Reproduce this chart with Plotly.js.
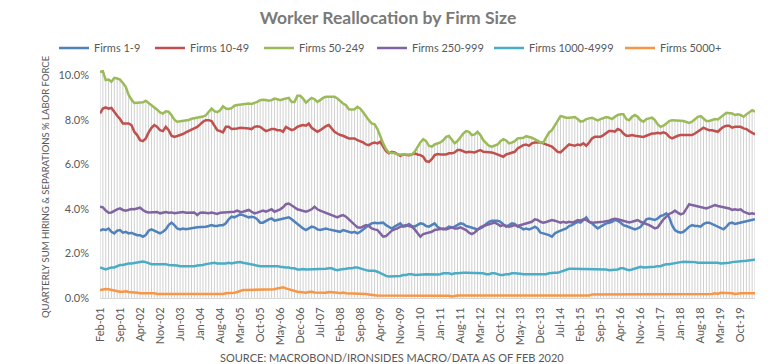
<!DOCTYPE html>
<html>
<head>
<meta charset="utf-8">
<script src="https://cdn.plot.ly/plotly-3.0.1.min.js"></script>
<style>html,body{margin:0;padding:0;background:#fff;}#chart{width:776px;height:364px;}</style>
</head>
<body>
<div id="chart"></div>
<script>
// Monthly series, Feb-2001 .. Mar-2020 (230 months), % of labor force
const startYear = 2001, startMonth = 1; // 0-based month: 1 = Feb
const seriesNames = ["Firms 1-9", "Firms 10-49", "Firms 50-249", "Firms 250-999", "Firms 1000-4999", "Firms 5000+"];

const firms1to9 = [
3.02,3.08,3.05,3.12,2.97,2.90,3.02,3.05,2.93,2.97,
2.90,2.93,2.87,2.82,2.82,2.75,2.82,3.02,3.08,3.02,
2.93,2.90,2.97,3.08,3.27,3.38,3.27,3.12,3.08,3.12,
3.09,3.12,3.12,3.15,3.17,3.17,3.20,3.20,3.23,3.27,
3.23,3.23,3.27,3.27,3.35,3.53,3.65,3.62,3.68,3.75,
3.72,3.68,3.62,3.65,3.62,3.53,3.38,3.38,3.47,3.53,
3.57,3.47,3.50,3.53,3.53,3.57,3.62,3.53,3.42,3.35,
3.23,3.12,3.05,3.12,3.20,3.17,3.08,3.05,3.09,3.12,
3.08,3.05,3.05,3.02,2.97,3.05,3.00,2.97,2.93,2.97,
2.90,2.97,3.08,3.17,3.27,3.35,3.38,3.35,3.35,3.38,
3.27,3.20,3.12,3.20,3.27,3.35,3.20,3.23,3.32,3.23,
3.20,3.27,3.35,3.32,3.23,3.20,3.27,3.35,3.20,3.12,
3.08,3.12,3.20,3.17,3.20,3.27,3.35,3.32,3.23,3.20,
3.17,3.12,3.08,3.12,3.20,3.32,3.42,3.47,3.47,3.47,
3.42,3.32,3.20,3.27,3.35,3.32,3.20,3.17,3.08,3.12,
3.08,3.12,3.20,3.12,2.93,2.90,2.87,2.82,2.75,2.90,
2.97,3.02,3.08,3.12,3.23,3.27,3.35,3.42,3.38,3.50,
3.62,3.42,3.35,3.23,3.12,3.20,3.27,3.35,3.38,3.42,
3.50,3.47,3.38,3.27,3.23,3.17,3.12,3.08,3.12,3.20,
3.35,3.53,3.57,3.53,3.50,3.57,3.68,3.72,3.80,3.62,
3.27,3.05,2.97,2.93,2.97,3.08,3.20,3.27,3.23,3.23,
3.20,3.32,3.38,3.38,3.32,3.27,3.23,3.17,3.08,3.20,
3.35,3.38,3.32,3.35,3.38,3.38,3.42,3.47,3.50,3.53];

const firms10to49 = [
8.28,8.50,8.55,8.50,8.53,8.33,8.18,8.03,7.83,7.83,
7.83,7.76,7.46,7.31,7.08,7.04,7.16,7.43,7.64,7.76,
7.68,7.53,7.49,7.68,7.53,7.28,7.23,7.27,7.31,7.36,
7.43,7.49,7.53,7.61,7.68,7.79,7.91,7.98,7.98,7.94,
7.76,7.53,7.49,7.43,7.68,7.68,7.58,7.58,7.61,7.64,
7.64,7.61,7.61,7.58,7.68,7.71,7.68,7.58,7.49,7.53,
7.58,7.58,7.53,7.53,7.46,7.68,7.61,7.53,7.58,7.68,
7.73,7.76,7.73,7.83,7.64,7.53,7.46,7.53,7.64,7.71,
7.76,7.61,7.46,7.38,7.31,7.28,7.23,7.16,7.16,7.16,
7.08,7.04,6.98,6.89,6.86,6.94,6.98,6.94,7.01,6.79,
6.59,6.49,6.56,6.53,6.44,6.38,6.44,6.41,6.41,6.44,
6.49,6.44,6.41,6.34,6.14,6.11,6.23,6.41,6.46,6.44,
6.44,6.44,6.49,6.49,6.53,6.64,6.64,6.59,6.53,6.56,
6.56,6.53,6.59,6.64,6.56,6.56,6.53,6.53,6.49,6.44,
6.41,6.34,6.44,6.49,6.53,6.56,6.71,6.79,6.86,6.89,
6.83,6.94,6.98,6.98,6.98,6.94,6.89,6.83,6.79,6.68,
6.56,6.53,6.64,6.74,6.89,6.86,6.83,6.89,6.86,6.94,
6.83,6.98,7.16,7.23,7.23,7.23,7.31,7.41,7.49,7.49,
7.46,7.58,7.53,7.38,7.28,7.28,7.31,7.28,7.27,7.23,
7.23,7.28,7.34,7.38,7.38,7.41,7.38,7.43,7.38,7.23,
7.16,7.23,7.28,7.31,7.31,7.28,7.28,7.31,7.38,7.46,
7.53,7.64,7.58,7.53,7.53,7.49,7.46,7.58,7.68,7.73,
7.73,7.64,7.68,7.68,7.68,7.61,7.58,7.49,7.43,7.34];

const firms50to249 = [
10.15,10.18,9.78,9.80,9.70,9.88,9.85,9.80,9.65,9.48,
9.12,8.90,8.75,8.75,8.77,8.78,8.85,8.75,8.68,8.58,
8.45,8.33,8.28,8.38,8.36,8.20,8.00,7.91,7.93,7.94,
7.95,7.99,8.04,8.06,8.08,8.12,8.14,8.20,8.36,8.50,
8.38,8.34,8.42,8.60,8.50,8.48,8.52,8.63,8.66,8.68,
8.72,8.73,8.73,8.71,8.74,8.80,8.88,8.90,8.88,8.85,
8.88,8.95,8.92,8.88,8.92,8.95,8.98,8.80,8.80,9.07,
9.07,8.95,8.77,8.88,8.98,8.92,8.80,8.88,8.98,9.03,
9.04,9.04,9.03,8.95,8.83,8.73,8.65,8.47,8.46,8.47,
8.58,8.50,8.33,8.13,7.98,7.83,7.79,7.58,7.23,6.94,
6.68,6.53,6.52,6.50,6.44,6.44,6.41,6.41,6.41,6.44,
6.56,6.79,6.98,7.13,7.04,6.83,6.79,6.89,6.94,6.98,
7.08,7.23,7.27,7.08,6.94,7.04,7.23,7.38,7.49,7.46,
7.31,7.34,7.46,7.31,7.08,6.94,6.83,6.79,6.83,6.89,
7.04,7.13,7.07,6.94,6.97,7.04,7.16,7.16,7.19,7.26,
7.23,7.19,7.13,7.04,6.98,6.98,7.19,7.43,7.53,7.76,
7.98,8.16,8.13,8.09,8.09,8.10,8.12,8.03,7.91,7.94,
8.03,8.06,8.09,8.03,7.97,8.03,8.09,8.12,8.09,8.03,
8.13,8.21,8.24,8.24,8.03,7.98,8.13,8.21,8.13,7.98,
7.91,8.03,8.06,8.09,7.98,7.79,7.68,7.73,7.83,7.94,
7.98,7.98,7.95,7.95,7.94,7.91,7.86,7.91,8.01,8.13,
8.16,8.06,7.94,7.94,7.97,8.03,8.01,8.13,8.21,8.31,
8.28,8.28,8.21,8.24,8.21,8.13,8.24,8.33,8.43,8.36];

const firms250to999 = [
4.10,4.07,3.92,3.83,3.84,3.92,3.98,4.02,3.95,3.92,
3.95,3.99,3.98,4.02,4.05,3.95,3.87,3.84,3.84,3.83,
3.86,3.80,3.83,3.86,3.83,3.84,3.80,3.83,3.84,3.86,
3.83,3.84,3.86,3.84,3.72,3.83,3.84,3.83,3.80,3.83,
3.80,3.77,3.83,3.84,3.87,3.86,3.89,3.87,3.92,3.86,
3.87,3.90,3.95,3.87,3.80,3.83,3.87,3.92,3.87,3.92,
3.98,3.87,3.92,3.98,4.07,4.21,4.24,4.17,4.07,3.98,
3.95,3.90,3.87,3.92,3.98,4.10,3.98,3.92,3.87,3.84,
3.80,3.75,3.68,3.62,3.68,3.72,3.65,3.53,3.42,3.32,
3.17,3.15,3.20,3.27,3.23,3.12,3.08,3.05,2.90,2.75,
2.78,2.90,3.02,3.08,3.12,3.20,3.23,3.27,3.23,3.20,
3.08,2.93,2.75,2.87,2.90,2.93,2.97,3.05,3.08,3.09,
3.12,3.08,3.12,3.17,3.12,3.12,3.17,3.12,3.05,2.93,
2.87,2.94,3.05,3.17,3.23,3.27,3.32,3.35,3.38,3.32,
3.23,3.27,3.23,3.20,3.23,3.27,3.23,3.27,3.32,3.35,
3.39,3.42,3.53,3.50,3.42,3.38,3.41,3.47,3.50,3.47,
3.42,3.38,3.42,3.38,3.42,3.39,3.42,3.50,3.47,3.53,
3.50,3.42,3.38,3.39,3.38,3.39,3.42,3.45,3.47,3.53,
3.56,3.53,3.50,3.45,3.42,3.39,3.42,3.47,3.50,3.42,
3.38,3.32,3.27,3.20,3.12,3.17,3.35,3.53,3.65,3.77,
3.83,3.92,3.83,3.75,3.80,3.98,4.21,4.17,4.14,4.13,
4.10,4.07,4.02,4.07,4.13,4.17,4.13,4.10,4.07,4.02,
4.02,3.95,3.98,3.95,3.98,3.87,3.83,3.77,3.80,3.77];

const firms1000to4999 = [
1.37,1.33,1.28,1.33,1.37,1.37,1.43,1.48,1.48,1.52,
1.55,1.55,1.58,1.58,1.63,1.64,1.61,1.55,1.52,1.52,
1.52,1.51,1.52,1.52,1.48,1.48,1.48,1.46,1.43,1.43,
1.40,1.40,1.43,1.43,1.46,1.46,1.48,1.52,1.55,1.55,
1.58,1.55,1.55,1.52,1.55,1.58,1.55,1.58,1.60,1.61,
1.58,1.55,1.52,1.51,1.48,1.46,1.43,1.43,1.43,1.45,
1.46,1.45,1.43,1.40,1.37,1.37,1.37,1.33,1.33,1.28,
1.28,1.30,1.28,1.28,1.30,1.28,1.28,1.30,1.31,1.31,
1.33,1.33,1.28,1.25,1.28,1.31,1.31,1.33,1.33,1.37,
1.37,1.33,1.28,1.25,1.22,1.22,1.22,1.18,1.11,1.03,
0.99,0.96,0.96,0.96,0.96,0.99,1.03,1.03,1.07,1.07,
1.03,1.03,1.03,1.06,1.07,1.06,1.07,1.07,1.06,1.07,
1.11,1.11,1.11,1.07,1.11,1.11,1.13,1.13,1.13,1.13,
1.13,1.12,1.11,1.11,1.11,1.07,1.07,1.11,1.11,1.07,
1.03,1.03,1.07,1.07,1.11,1.11,1.11,1.09,1.07,1.07,
1.07,1.07,1.06,1.06,1.06,1.05,1.07,1.11,1.13,1.13,
1.13,1.18,1.22,1.28,1.31,1.31,1.31,1.31,1.31,1.31,
1.31,1.31,1.31,1.31,1.31,1.28,1.28,1.28,1.25,1.25,
1.25,1.28,1.33,1.33,1.28,1.25,1.28,1.33,1.37,1.40,
1.37,1.37,1.37,1.40,1.40,1.43,1.43,1.48,1.52,1.52,
1.55,1.55,1.58,1.61,1.63,1.63,1.63,1.63,1.61,1.58,
1.58,1.58,1.58,1.60,1.61,1.61,1.58,1.55,1.55,1.55,
1.58,1.61,1.63,1.64,1.66,1.66,1.67,1.67,1.70,1.73];

const firms5000plus = [
0.36,0.39,0.40,0.39,0.36,0.33,0.31,0.28,0.28,0.30,
0.27,0.27,0.27,0.24,0.21,0.21,0.22,0.24,0.24,0.21,
0.18,0.18,0.18,0.18,0.16,0.16,0.18,0.16,0.15,0.15,
0.15,0.15,0.15,0.15,0.15,0.15,0.15,0.15,0.15,0.15,
0.15,0.16,0.16,0.18,0.21,0.21,0.24,0.24,0.27,0.31,
0.36,0.36,0.36,0.36,0.36,0.36,0.36,0.36,0.39,0.39,
0.36,0.39,0.43,0.46,0.48,0.43,0.39,0.36,0.31,0.28,
0.27,0.25,0.24,0.27,0.28,0.25,0.24,0.24,0.25,0.24,
0.27,0.27,0.24,0.24,0.21,0.24,0.21,0.21,0.18,0.21,
0.21,0.19,0.18,0.18,0.16,0.13,0.12,0.11,0.11,0.11,
0.11,0.11,0.11,0.11,0.11,0.11,0.11,0.11,0.11,0.11,
0.11,0.11,0.11,0.11,0.11,0.11,0.11,0.11,0.11,0.11,
0.11,0.11,0.10,0.07,0.10,0.11,0.11,0.11,0.11,0.11,
0.11,0.11,0.11,0.11,0.11,0.11,0.11,0.11,0.11,0.11,
0.11,0.11,0.11,0.11,0.11,0.11,0.11,0.11,0.11,0.11,
0.11,0.11,0.11,0.11,0.11,0.11,0.11,0.11,0.11,0.11,
0.11,0.11,0.11,0.11,0.11,0.11,0.11,0.11,0.11,0.11,
0.11,0.11,0.16,0.16,0.16,0.16,0.16,0.16,0.16,0.16,
0.16,0.16,0.16,0.16,0.16,0.16,0.16,0.16,0.16,0.16,
0.16,0.16,0.16,0.16,0.16,0.16,0.16,0.16,0.16,0.16,
0.16,0.16,0.16,0.16,0.16,0.16,0.16,0.16,0.16,0.16,
0.16,0.16,0.16,0.16,0.18,0.21,0.18,0.24,0.24,0.21,
0.24,0.21,0.18,0.21,0.21,0.21,0.21,0.21,0.21,0.21];

const monthNames = ["Jan","Feb","Mar","Apr","May","Jun","Jul","Aug","Sep","Oct","Nov","Dec"];
const yTickValues = [0, 2, 4, 6, 8, 10];
const yTickLabels = ["0.0%", "2.0%", "4.0%", "6.0%", "8.0%", "10.0%"];
const colors = ["#4F81BD", "#C0504D", "#9BBB59", "#8064A2", "#4BACC6", "#F79646"];
const allSeries = [firms1to9, firms10to49, firms50to249, firms250to999, firms1000to4999, firms5000plus];

const n = firms50to249.length;
const xIdx = [], monthLabel = [];
for (let i = 0; i < n; i++) {
  xIdx.push(i);
  const mAbs = startMonth + i;
  const yr = startYear + Math.floor(mAbs / 12);
  monthLabel.push(monthNames[mAbs % 12] + "-" + String(yr % 100).padStart(2, "0"));
}
const tickVals = [], tickText = [];
for (let i = 0; i < n - 5; i += 7) { tickVals.push(i); tickText.push(monthLabel[i]); }

// drop lines from the highest series down to the axis
const topVals = xIdx.map(i => Math.max(...allSeries.map(s => s[i])));
const zeros = xIdx.map(() => 0);

const font = "Lato, 'Open Sans', sans-serif";
const gray = "#595959";

const traces = [{
  x: xIdx, y: zeros, type: "scatter", mode: "markers",
  marker: {size: 1, opacity: 0}, showlegend: false, hoverinfo: "skip",
  error_y: {type: "data", symmetric: false, array: topVals, arrayminus: zeros,
            color: "#d0d0d0", thickness: 1, width: 0}
}];
// legend text start positions (px) in the reference
const legendTextPx = [94, 190, 299, 412, 529, 660];
const plotL = 100, plotR = 755, plotT = 64, plotB = 298;
const layoutLegends = {};
allSeries.forEach((s, k) => {
  const key = k === 0 ? "legend" : "legend" + (k + 1);
  traces.push({
    x: xIdx, y: s, type: "scatter", mode: "lines", name: seriesNames[k],
    line: {color: colors[k], width: 2.5}, legend: key
  });
  layoutLegends[key] = {
    orientation: "h", x: (legendTextPx[k] - 40 - plotL) / (plotR - plotL),
    xanchor: "left", y: (plotB - 48) / (plotB - plotT), yanchor: "middle",
    font: {family: font, size: 11, color: gray}, bgcolor: "rgba(0,0,0,0)"
  };
});

const layout = Object.assign({
  width: 776, height: 364,
  margin: {l: plotL, r: 776 - plotR, t: plotT, b: 364 - plotB},
  paper_bgcolor: "#ffffff", plot_bgcolor: "#ffffff",
  font: {family: font, color: gray},
  title: {text: "<b>Worker Reallocation by Firm Size</b>", x: 0.5, xref: "container", xanchor: "center",
          y: 1 - 18 / 364, yref: "container", yanchor: "middle",
          font: {family: font, size: 17.5, color: "#7a7a7a"}},
  xaxis: {range: [0, n - 1], tickvals: tickVals, ticktext: tickText, tickangle: -90,
          showgrid: false, zeroline: false, showline: true, linecolor: "#d9d9d9", linewidth: 1,
          ticks: "", ticklabelstandoff: 4, tickfont: {family: font, size: 11, color: gray}},
  yaxis: {range: [0, 10.5], tickvals: yTickValues, ticktext: yTickLabels,
          showgrid: false, zeroline: false, showline: false, ticks: "", ticklabelstandoff: 10,
          tickfont: {family: font, size: 11, color: gray}},
  annotations: [
    {text: "QUARTERLY SUM HIRING & SEPARATIONS % LABOR FORCE", textangle: -90,
     xref: "paper", yref: "paper", x: (45 - plotL) / (plotR - plotL), y: (plotB - 187) / (plotB - plotT),
     xanchor: "center", yanchor: "middle", showarrow: false,
     font: {family: font, size: 9.5, color: gray}},
    {text: "SOURCE: MACROBOND/IRONSIDES MACRO/DATA AS OF FEB 2020",
     xref: "paper", yref: "paper", x: (392 - plotL) / (plotR - plotL), y: (plotB - 357) / (plotB - plotT),
     xanchor: "center", yanchor: "middle", showarrow: false,
     font: {family: font, size: 11, color: gray}}
  ]
}, layoutLegends);

Plotly.newPlot("chart", traces, layout, {displayModeBar: false, staticPlot: true});
</script>
</body>
</html>
